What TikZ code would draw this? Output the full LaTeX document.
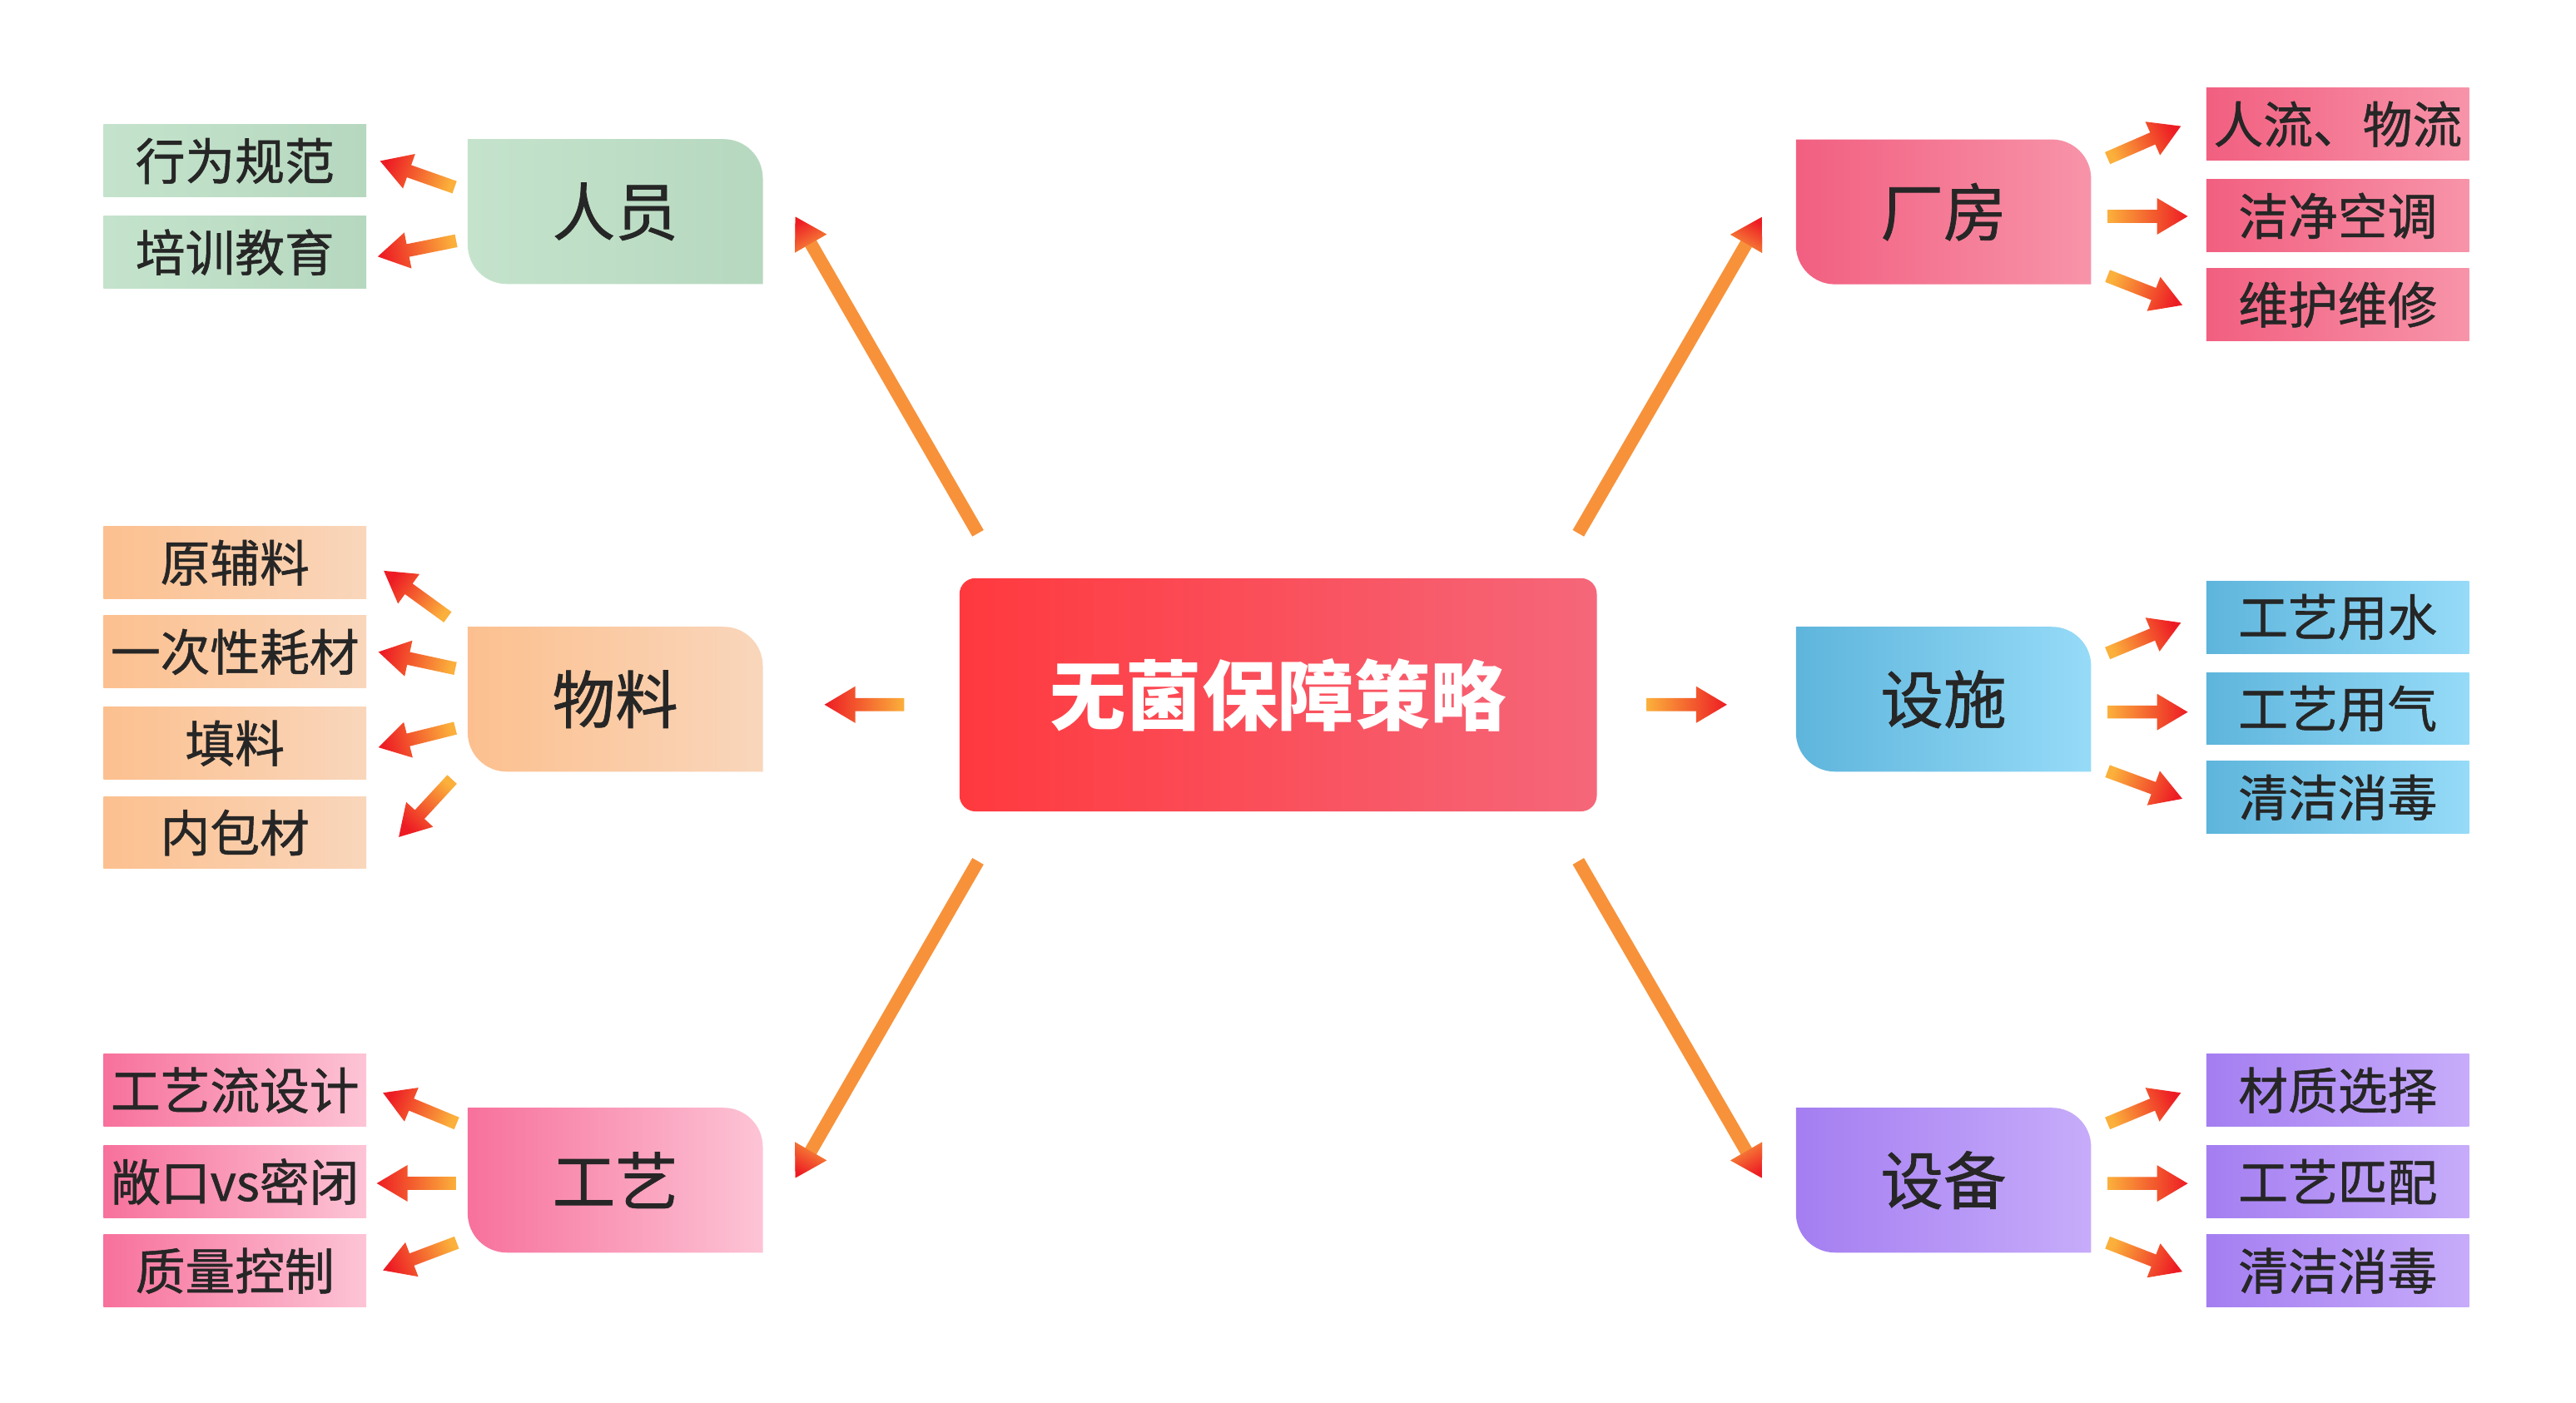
\documentclass[tikz,border=0pt]{standalone}
\usepackage{fontspec}
\setmainfont{Noto Sans CJK SC}
\newfontfamily\medfont{Noto Sans CJK SC}[FakeBold=0.9]
\usetikzlibrary{calc, backgrounds, positioning}

\definecolor{txt}{HTML}{262626}
\definecolor{greenL}{HTML}{C5E3CC}
\definecolor{greenR}{HTML}{B6D8BF}
\definecolor{orangeL}{HTML}{FCC08F}
\definecolor{orangeR}{HTML}{F9D6BB}
\definecolor{pinkL}{HTML}{F7719C}
\definecolor{pinkR}{HTML}{FDC4D6}
\definecolor{roseL}{HTML}{F25F80}
\definecolor{roseR}{HTML}{F794A9}
\definecolor{blueL}{HTML}{5EB5DC}
\definecolor{blueR}{HTML}{96DBF8}
\definecolor{purpleL}{HTML}{A47EF1}
\definecolor{purpleR}{HTML}{C7ACFA}
\definecolor{coreL}{HTML}{FF393E}
\definecolor{coreR}{HTML}{F5677A}
\definecolor{arrYellow}{HTML}{FBB03B}
\definecolor{arrOrange}{HTML}{F7923A}
\definecolor{arrRed}{HTML}{ED1C24}

\newcommand{\shafthw}{0.078cm}
\newcommand{\headhw}{0.22cm}
\newcommand{\headlen}{0.37cm}
% block arrow from #2 (tail) to #3 (tip); \gaangle holds its direction for shading
\newcommand{\gradarrow}[3]{%
  \coordinate (ga-t) at #2;
  \coordinate (ga-h) at #3;
  \coordinate (ga-n) at ($(ga-h)!\headlen!(ga-t)$);
  \path let \p1=(ga-t), \p2=(ga-h), \n1={atan2(\y2-\y1,\x2-\x1)-90} in \pgfextra{\xdef\gaangle{\n1}};
  \path[#1] ($(ga-t)!\shafthw!90:(ga-h)$) -- ($(ga-n)!\shafthw!-90:(ga-t)$)
    -- ($(ga-n)!\headhw!-90:(ga-t)$) -- (ga-h) -- ($(ga-n)!\headhw!90:(ga-t)$)
    -- ($(ga-n)!\shafthw!90:(ga-t)$) -- ($(ga-t)!\shafthw!-90:(ga-h)$) -- cycle;}
% head of the last arrow again
\newcommand{\gradhead}[1]{%
  \path[#1] ($(ga-n)!\headhw!-90:(ga-t)$) -- (ga-h) -- ($(ga-n)!\headhw!90:(ga-t)$) -- cycle;}
% tab shape behind a branch node
\newcommand{\midshape}[3]{%
  \path[left color=#2, right color=#3] (#1.north west) -- ([xshift=-0.47cm]#1.north east)
    arc[start angle=90, end angle=0, radius=0.47cm] -- (#1.south east)
    -- ([xshift=0.47cm]#1.south west) arc[start angle=270, end angle=180, radius=0.47cm] -- cycle;}

\begin{document}
\begin{tikzpicture}[
    x=0.01974cm, y=-0.01974cm,
    leaf/.style={inner sep=0pt, minimum width=3.158cm, minimum height=0.869cm, text=txt, font=\medfont\fontsize{17}{20}\selectfont},
    mid/.style={inner sep=0pt, minimum width=3.533cm, minimum height=1.727cm, text=txt, font=\medfont\fontsize{21.5}{26}\selectfont},
    core/.style={rounded corners=0.19cm, inner sep=0pt, minimum width=7.659cm, minimum height=2.803cm,
                 left color=coreL, right color=coreR, text=white, font=\fontsize{26}{31}\selectfont\bfseries},
    greenfill/.style={left color=greenL, right color=greenR},
    orangefill/.style={left color=orangeL, right color=orangeR},
    pinkfill/.style={left color=pinkL, right color=pinkR},
    rosefill/.style={left color=roseL, right color=roseR},
    bluefill/.style={left color=blueL, right color=blueR},
    purplefill/.style={left color=purpleL, right color=purpleR},
    bigbody/.style={fill=arrOrange},
    bighead/.style={top color=arrRed, bottom color=arrOrange, shading angle=\gaangle},
    smallarr/.style={top color=arrRed, bottom color=arrYellow, shading angle=\gaangle},
]
\useasboundingbox (0,0) rectangle (1568,853.7);
% === Centre ===
\node[core] (core) at (778,423) {\raisebox{-2.8pt}{无菌保障策略}};
% === Left branches ===
\node[mid] (people) at (374.5,128.8) {人员};
\node[mid] (material) at (374.5,425.7) {物料};
\node[mid] (process) at (374.5,718.5) {工艺};
\node[leaf, greenfill] (behav) at (143,98) {行为规范};
\node[leaf, greenfill] (train) at (143,153.6) {培训教育};
\node[leaf, orangefill] (rawmat) at (143,342.6) {原辅料};
\node[leaf, orangefill] (single) at (143,396.9) {一次性耗材};
\node[leaf, orangefill] (filler) at (143,452.5) {填料};
\node[leaf, orangefill] (pack) at (143,506.9) {内包材};
\node[leaf, pinkfill] (flow) at (143,663.8) {工艺流设计};
\node[leaf, pinkfill] (open) at (143,719.5) {敞口vs密闭};
\node[leaf, pinkfill] (quality) at (143,773.7) {质量控制};
% === Right branches ===
\node[mid] (plant) at (1183,129) {厂房};
\node[mid] (facility) at (1183,425.7) {设施};
\node[mid] (equip) at (1183,718.5) {设备};
\node[leaf, rosefill] (flows) at (1423,75.6) {人流、物流};
\node[leaf, rosefill] (hvac) at (1423,131.4) {洁净空调};
\node[leaf, rosefill] (maint) at (1423,185.5) {维护维修};
\node[leaf, bluefill] (water) at (1423,375.7) {工艺用水};
\node[leaf, bluefill] (gas) at (1423,431.4) {工艺用气};
\node[leaf, bluefill] (cleanA) at (1423,485.5) {清洁消毒};
\node[leaf, purplefill] (matsel) at (1423,663.8) {材质选择};
\node[leaf, purplefill] (match) at (1423,719.5) {工艺匹配};
\node[leaf, purplefill] (cleanB) at (1423,773.7) {清洁消毒};
% === Tab shapes ===
\begin{scope}[on background layer]
\fill[white] (0,0) rectangle (1568,853.7);
\midshape{people}{greenL}{greenR}
\midshape{material}{orangeL}{orangeR}
\midshape{process}{pinkL}{pinkR}
\midshape{plant}{roseL}{roseR}
\midshape{facility}{blueL}{blueR}
\midshape{equip}{purpleL}{purpleR}
\end{scope}
% === Centre to branches ===
\gradarrow{bigbody}{([shift={(11.6,-27)}]core.north west)}{([shift={(19.8,-40.9)}]people.south east)}
\gradhead{bighead}
\gradarrow{bigbody}{([shift={(-11.6,-27)}]core.north east)}{([shift={(-20.8,-40.9)}]plant.south west)}
\gradhead{bighead}
\gradarrow{bigbody}{([shift={(11.6,30)}]core.south west)}{([shift={(19.8,42.7)}]process.north east)}
\gradhead{bighead}
\gradarrow{bigbody}{([shift={(-11.6,30)}]core.south east)}{([shift={(-20.8,42.7)}]equip.north west)}
\gradhead{bighead}
\gradarrow{smallarr}{([shift={(-33.3,6)}]core.west)}{([shift={(37.5,3.3)}]material.east)}
\gradarrow{smallarr}{([shift={(30,6)}]core.east)}{([shift={(-42,3.3)}]facility.west)}
% === Branches to leaves ===
\gradarrow{smallarr}{([shift={(-8,-14.8)}]people.west)}{([shift={(8,0)}]behav.east)}
\gradarrow{smallarr}{([shift={(-7,17.8)}]people.west)}{([shift={(6.6,2.6)}]train.east)}
\gradarrow{smallarr}{([shift={(-12.2,-50)}]material.west)}{([shift={(10.3,4.9)}]rawmat.east)}
\gradarrow{smallarr}{([shift={(-7.5,-18.7)}]material.west)}{([shift={(7,0)}]single.east)}
\gradarrow{smallarr}{([shift={(-7.5,17.6)}]material.west)}{([shift={(7,2.5)}]filler.east)}
\gradarrow{smallarr}{([shift={(-9.5,48.8)}]material.west)}{([shift={(19.4,2.7)}]pack.east)}
\gradarrow{smallarr}{([shift={(-6.7,-34.6)}]process.west)}{([shift={(9.8,1.5)}]flow.east)}
\gradarrow{smallarr}{([shift={(-7,1.9)}]process.west)}{([shift={(6,0.9)}]open.east)}
\gradarrow{smallarr}{([shift={(-6.7,38)}]process.west)}{([shift={(9.8,-0.3)}]quality.east)}
\gradarrow{smallarr}{([shift={(10,-32.7)}]plant.east)}{([shift={(-15.2,1.2)}]flows.west)}
\gradarrow{smallarr}{([shift={(10,2.7)}]plant.east)}{([shift={(-11,0.3)}]hvac.west)}
\gradarrow{smallarr}{([shift={(10,39)}]plant.east)}{([shift={(-14.3,0.3)}]maint.west)}
\gradarrow{smallarr}{([shift={(10,-28)}]facility.east)}{([shift={(-15.2,3.4)}]water.west)}
\gradarrow{smallarr}{([shift={(10,7.8)}]facility.east)}{([shift={(-11,2.1)}]gas.west)}
\gradarrow{smallarr}{([shift={(10,43.8)}]facility.east)}{([shift={(-14.3,0.8)}]cleanA.west)}
\gradarrow{smallarr}{([shift={(10,-34.6)}]equip.east)}{([shift={(-15.2,1.5)}]matsel.west)}
\gradarrow{smallarr}{([shift={(10,2)}]equip.east)}{([shift={(-11,1)}]match.west)}
\gradarrow{smallarr}{([shift={(10,38)}]equip.east)}{([shift={(-14.3,0.5)}]cleanB.west)}
\end{tikzpicture}
\end{document}
